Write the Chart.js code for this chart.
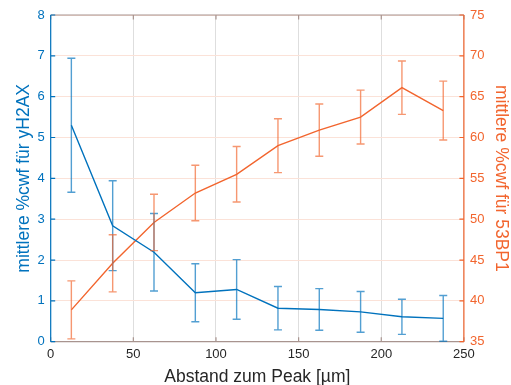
<!DOCTYPE html>
<html>
<head>
<meta charset="utf-8">
<script src="https://cdn.jsdelivr.net/npm/chart.js@4.4.1/dist/chart.umd.min.js"></script>
<style>
  html, body { margin: 0; padding: 0; background: #ffffff; }
  #wrap { width: 511px; height: 385px; }
</style>
</head>
<body>
<div id="wrap"><canvas id="c" width="511" height="385"></canvas></div>
<script>
// Distance bins (centre of each 25 µm bin)
const abstand = [12.5, 37.5, 62.5, 87.5, 112.5, 137.5, 162.5, 187.5, 212.5, 237.5];

// Mean %cwf for yH2AX (left axis) and its error
const yH2AX = [5.30, 2.84, 2.19, 1.20, 1.28, 0.82, 0.79, 0.73, 0.61, 0.57];
const yH2AXErr = [1.64, 1.10, 0.95, 0.71, 0.73, 0.53, 0.51, 0.50, 0.43, 0.56];

// Mean %cwf for 53BP1 (right axis) and its error
const bp53 = [38.9, 44.6, 49.6, 53.2, 55.5, 59.0, 60.9, 62.5, 66.1, 63.3];
const bp53Err = [3.55, 3.50, 3.45, 3.40, 3.40, 3.30, 3.20, 3.30, 3.27, 3.60];

// Axis ranges and tick steps
const xRange = [0, 250, 50];
const leftRange = [0, 8, 1];
const rightRange = [35, 75, 5];

const BLUE = 'rgb(0,114,189)';
const BLUE_ERR = 'rgba(0,114,189,0.68)';
const ORANGE = 'rgb(242,101,46)';
const ORANGE_ERR = 'rgba(242,101,46,0.68)';
const FONT = "'Liberation Sans', Arial, Helvetica, sans-serif";

const errors = [yH2AXErr, bp53Err];
const errColors = [BLUE_ERR, ORANGE_ERR];

// Vertical error bars with caps, placed through each dataset's own y scale
const errorBarPlugin = {
  id: 'errorBars',
  afterDatasetsDraw(chart) {
    const ctx = chart.ctx;
    const xs = chart.scales.x;
    chart.data.datasets.forEach((ds, i) => {
      const ys = chart.scales[ds.yAxisID];
      const err = errors[i];
      ctx.save();
      ctx.strokeStyle = errColors[i];
      ctx.lineWidth = 1.4;
      ds.data.forEach((p, j) => {
        const px = xs.getPixelForValue(p.x);
        const top = ys.getPixelForValue(p.y + err[j]);
        const bot = ys.getPixelForValue(p.y - err[j]);
        ctx.beginPath();
        ctx.moveTo(px, top); ctx.lineTo(px, bot);
        ctx.moveTo(px - 4, top); ctx.lineTo(px + 4, top);
        ctx.moveTo(px - 4, bot); ctx.lineTo(px + 4, bot);
        ctx.stroke();
      });
      ctx.restore();
    });
  }
};

// Box around the plot area with inward tick marks
const boxPlugin = {
  id: 'axesBox',
  beforeDatasetsDraw(chart) {
    const { ctx, chartArea: a } = chart;
    const xs = chart.scales.x, yl = chart.scales.y, yr = chart.scales.y1;
    const t = 4.5;
    ctx.save();
    ctx.lineWidth = 1.2;
    // top and bottom
    ctx.strokeStyle = '#a8948f';
    ctx.beginPath();
    ctx.moveTo(a.left, a.top); ctx.lineTo(a.right, a.top);
    ctx.moveTo(a.left, a.bottom); ctx.lineTo(a.right, a.bottom);
    xs.ticks.forEach(tk => {
      const px = xs.getPixelForValue(tk.value);
      ctx.moveTo(px, a.top); ctx.lineTo(px, a.top + t);
      ctx.moveTo(px, a.bottom); ctx.lineTo(px, a.bottom - t);
    });
    ctx.stroke();
    // left axis
    ctx.strokeStyle = BLUE;
    ctx.beginPath();
    ctx.moveTo(a.left, a.top); ctx.lineTo(a.left, a.bottom);
    yl.ticks.forEach(tk => {
      const py = yl.getPixelForValue(tk.value);
      ctx.moveTo(a.left, py); ctx.lineTo(a.left + t, py);
    });
    ctx.stroke();
    // right axis
    ctx.strokeStyle = ORANGE;
    ctx.beginPath();
    ctx.moveTo(a.right, a.top); ctx.lineTo(a.right, a.bottom);
    yr.ticks.forEach(tk => {
      const py = yr.getPixelForValue(tk.value);
      ctx.moveTo(a.right, py); ctx.lineTo(a.right - t, py);
    });
    ctx.stroke();
    ctx.restore();
  }
};

const toPoints = (xsArr, ysArr) => xsArr.map((x, i) => ({ x: x, y: ysArr[i] }));

new Chart(document.getElementById('c'), {
  type: 'line',
  data: {
    datasets: [
      {
        label: 'yH2AX',
        data: toPoints(abstand, yH2AX),
        yAxisID: 'y',
        borderColor: BLUE,
        borderWidth: 1.4,
        pointRadius: 0,
        tension: 0,
        fill: false
      },
      {
        label: '53BP1',
        data: toPoints(abstand, bp53),
        yAxisID: 'y1',
        borderColor: ORANGE,
        borderWidth: 1.4,
        pointRadius: 0,
        tension: 0,
        fill: false
      }
    ]
  },
  options: {
    responsive: false,
    animation: false,
    layout: { padding: { top: 15, left: 0, right: 0, bottom: 0 } },
    plugins: { legend: { display: false }, tooltip: { enabled: false } },
    scales: {
      x: {
        type: 'linear',
        min: xRange[0], max: xRange[1],
        afterFit(s) { s.height = 43.3; },
        ticks: { stepSize: xRange[2], color: '#262626', padding: 5, font: { family: FONT, size: 13 } },
        grid: { color: '#dedede', lineWidth: 1, drawTicks: false },
        border: { display: false },
        title: {
          display: true, text: 'Abstand zum Peak [µm]', color: '#262626',
          font: { family: FONT, size: 17.5 }, padding: { top: 0, bottom: -3 }
        }
      },
      y: {
        position: 'left',
        min: leftRange[0], max: leftRange[1],
        afterFit(s) { s.width = 50.7; },
        ticks: { stepSize: leftRange[2], color: BLUE, padding: 6, font: { family: FONT, size: 13 } },
        grid: { color: '#fbe2d8', lineWidth: 1, drawTicks: false },
        border: { display: false },
        title: {
          display: true, text: 'mittlere %cwf für yH2AX', color: BLUE,
          font: { family: FONT, size: 17.5 }, padding: { top: 14, bottom: 0 }
        }
      },
      y1: {
        position: 'right',
        min: rightRange[0], max: rightRange[1],
        afterFit(s) { s.width = 47.1; },
        ticks: { stepSize: rightRange[2], color: ORANGE, padding: 6, font: { family: FONT, size: 13 } },
        grid: { drawOnChartArea: false, drawTicks: false },
        border: { display: false },
        title: {
          display: true, text: 'mittlere %cwf für 53BP1', color: ORANGE,
          font: { family: FONT, size: 17.5 }, padding: { top: 0, bottom: 0 }
        }
      }
    }
  },
  plugins: [boxPlugin, errorBarPlugin]
});
</script>
</body>
</html>
